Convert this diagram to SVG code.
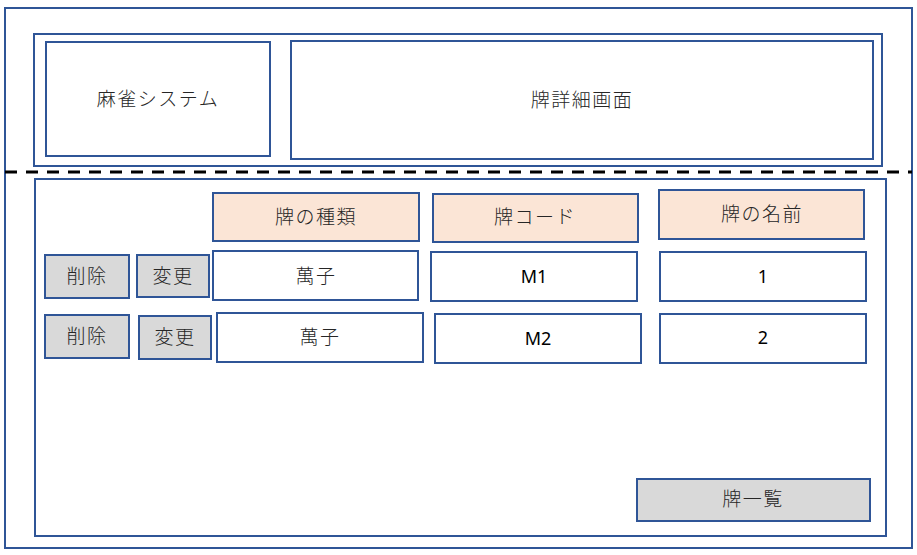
<svg xmlns="http://www.w3.org/2000/svg" width="917" height="555" viewBox="0 0 917 555">
<style>
.box{fill:#FFFFFF;stroke:#2F5597;stroke-width:2}
.hdr{fill:#FBE5D6;stroke:#2F5597;stroke-width:2}
.btn{fill:#D9D9D9;stroke:#2F5597;stroke-width:2}
.frame{fill:none;stroke:#2F5597;stroke-width:2}
.t{font-family:"Noto Sans CJK JP","Noto Sans",sans-serif;font-size:19px;font-weight:300;fill:#262626;text-anchor:middle;dominant-baseline:central;letter-spacing:1.5px}
.n{font-family:"Noto Sans","Liberation Sans",sans-serif;font-size:18px;fill:#000000;text-anchor:middle;dominant-baseline:central}
</style>
<rect width="917" height="555" fill="#FFFFFF"/>
<g id="outer"><rect class="frame" x="5" y="8" width="907" height="540"/></g>
<g id="header"><rect class="frame" x="34" y="34" width="848" height="132"/></g>
<g id="system"><rect class="box" x="46" y="42" width="224" height="114"/><text class="t" x="158" y="97">麻雀システム</text></g>
<g id="screen"><rect class="box" x="291" y="41" width="582" height="118"/><text class="t" x="582" y="98">牌詳細画面</text></g>
<g id="connectors"><line x1="5" y1="172" x2="912" y2="172" stroke="#000000" stroke-width="3" stroke-dasharray="12 9"/></g>
<g id="body"><rect class="frame" x="35" y="179" width="851" height="357"/></g>
<g id="h-kind"><rect class="hdr" x="213" y="193" width="206" height="48"/><text class="t" x="316" y="215">牌の種類</text></g>
<g id="h-code"><rect class="hdr" x="433" y="194" width="205" height="48"/><text class="t" x="535" y="215">牌コード</text></g>
<g id="h-name"><rect class="hdr" x="659" y="190" width="205" height="49"/><text class="t" x="762" y="212">牌の名前</text></g>
<g id="del1"><rect class="btn" x="45" y="255" width="84" height="43"/><text class="t" x="87" y="274">削除</text></g>
<g id="chg1"><rect class="btn" x="137" y="255" width="72" height="42"/><text class="t" x="173" y="274">変更</text></g>
<g id="kind1"><rect class="box" x="213" y="251" width="205" height="49"/><text class="t" x="316" y="274">萬子</text></g>
<g id="code1"><rect class="box" x="431" y="252" width="206" height="49"/><text class="n" x="534" y="276">M1</text></g>
<g id="name1"><rect class="box" x="660" y="252" width="206" height="49"/><text class="n" x="763" y="276">1</text></g>
<g id="del2"><rect class="btn" x="45" y="315" width="84" height="43"/><text class="t" x="87" y="334">削除</text></g>
<g id="chg2"><rect class="btn" x="139" y="316" width="72" height="43"/><text class="t" x="175" y="335">変更</text></g>
<g id="kind2"><rect class="box" x="217" y="313" width="206" height="49"/><text class="t" x="320" y="335">萬子</text></g>
<g id="code2"><rect class="box" x="435" y="314" width="206" height="49"/><text class="n" x="538" y="338">M2</text></g>
<g id="name2"><rect class="box" x="660" y="314" width="206" height="49"/><text class="n" x="763" y="337">2</text></g>
<g id="list"><rect class="btn" x="637" y="479" width="233" height="42"/><text class="t" x="753" y="497">牌一覧</text></g>
</svg>
